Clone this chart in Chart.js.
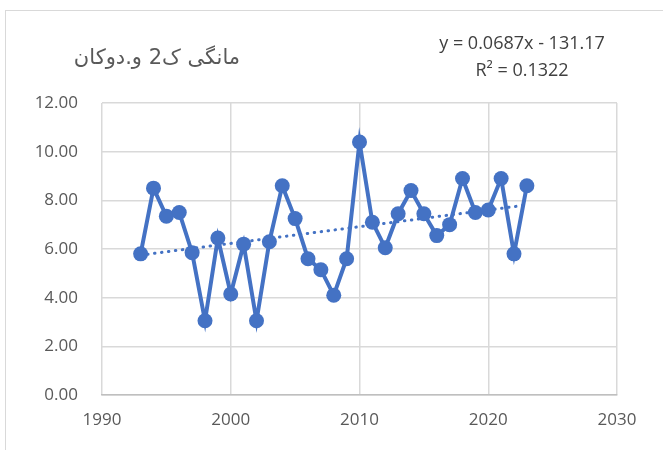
<!DOCTYPE html>
<html lang="ckb">
<head>
    <meta charset="UTF-8">
    <title>مانگی ک2 و.دوکان</title>
    <script src="https://cdn.jsdelivr.net/npm/chart.js"></script>
    <style>
        body {
            margin: 0;
            background: #fff;
        }
        .wrap {
            position: relative;
            width: 663px;
            height: 450px;
            overflow: hidden;
        }
        .frame {
            position: absolute;
            left: 5px;
            top: 10px;
            width: 700px;
            height: 500px;
            border: 1px solid #d9d9d9;
        }
        .title {
            position: absolute;
            left: 60px;
            top: 45px;
            width: 194px;
            text-align: center;
            font-family: "DejaVu Sans", sans-serif;
            font-size: 21px;
            color: #595959;
        }
        .eq {
            position: absolute;
            left: 400px;
            top: 29px;
            width: 244px;
            text-align: center;
            font-family: "Open Sans", sans-serif;
            font-size: 18px;
            line-height: 27px;
            color: #404040;
        }
        canvas {
            position: absolute;
            left: 0;
            top: 0;
        }
    </style>
</head>
<body>
<div class="wrap">
    <div class="frame"></div>
    <canvas id="chart" width="663" height="450"></canvas>
    <div class="title" dir="rtl">مانگی ک2 و.دوکان</div>
    <div class="eq">y = 0.0687x - 131.17<br>R² = 0.1322</div>
</div>

<script>
    // سالەکان و بەهاکان
    const years = [1993, 1994, 1995, 1996, 1997, 1998, 1999, 2000, 2001, 2002,
                   2003, 2004, 2005, 2006, 2007, 2008, 2009, 2010, 2011, 2012,
                   2013, 2014, 2015, 2016, 2017, 2018, 2019, 2020, 2021, 2022, 2023];
    const values = [5.80, 8.50, 7.35, 7.50, 5.85, 3.05, 6.45, 4.15, 6.20, 3.05,
                    6.30, 8.60, 7.25, 5.60, 5.15, 4.10, 5.60, 10.40, 7.10, 6.05,
                    7.45, 8.40, 7.45, 6.55, 7.00, 8.90, 7.50, 7.60, 8.90, 5.80, 8.60];

    // هێڵی ڕەوت (y = 0.0687x - 131.17)
    const trendSlope = 0.0687;
    const trendIntercept = -131.17;

    const xTicks = [1990, 2000, 2010, 2020, 2030];
    const yTicks = [0, 2, 4, 6, 8, 10, 12];

    const points = years.map((y, i) => ({ x: y, y: values[i] }));
    const trendYears = [years[0], years[years.length - 1]];
    const trend = trendYears.map(y => ({ x: y, y: trendSlope * y + trendIntercept }));

    const blue = '#4472C4';
    const ctx = document.getElementById('chart').getContext('2d');
    new Chart(ctx, {
        type: 'scatter',
        data: {
            datasets: [{
                data: points,
                showLine: true,
                borderColor: blue,
                backgroundColor: blue,
                borderWidth: 4,
                pointRadius: 7.5,
                pointBorderWidth: 0,
                order: 1
            }, {
                data: trend,
                showLine: true,
                borderColor: blue,
                borderWidth: 3,
                borderDash: [0.5, 6.5],
                borderCapStyle: 'round',
                pointRadius: 0,
                order: 2
            }]
        },
        options: {
            responsive: false,
            animation: false,
            layout: { padding: { top: 103, right: 46, left: 0, bottom: 0 } },
            plugins: {
                legend: { display: false },
                tooltip: { enabled: false }
            },
            scales: {
                x: {
                    type: 'linear',
                    min: xTicks[0],
                    max: xTicks[xTicks.length - 1],
                    afterBuildTicks: s => { s.ticks = xTicks.map(v => ({ value: v })); },
                    afterFit: s => { s.height = 55; },
                    grid: { color: '#d9d9d9', lineWidth: 1.5, drawTicks: false },
                    border: { color: '#bfbfbf', width: 1.5 },
                    ticks: {
                        padding: 15,
                        color: '#595959',
                        font: { family: 'Open Sans', size: 17 },
                        callback: v => String(v)
                    }
                },
                y: {
                    min: 0,
                    max: 12,
                    afterBuildTicks: s => { s.ticks = yTicks.map(v => ({ value: v })); },
                    afterFit: s => { s.width = 102; },
                    grid: { color: '#d9d9d9', lineWidth: 1.5, drawTicks: false },
                    border: { display: false },
                    ticks: {
                        padding: 24,
                        color: '#595959',
                        font: { family: 'Open Sans', size: 17 },
                        callback: v => v.toFixed(2)
                    }
                }
            }
        }
    });
</script>
</body>
</html>
